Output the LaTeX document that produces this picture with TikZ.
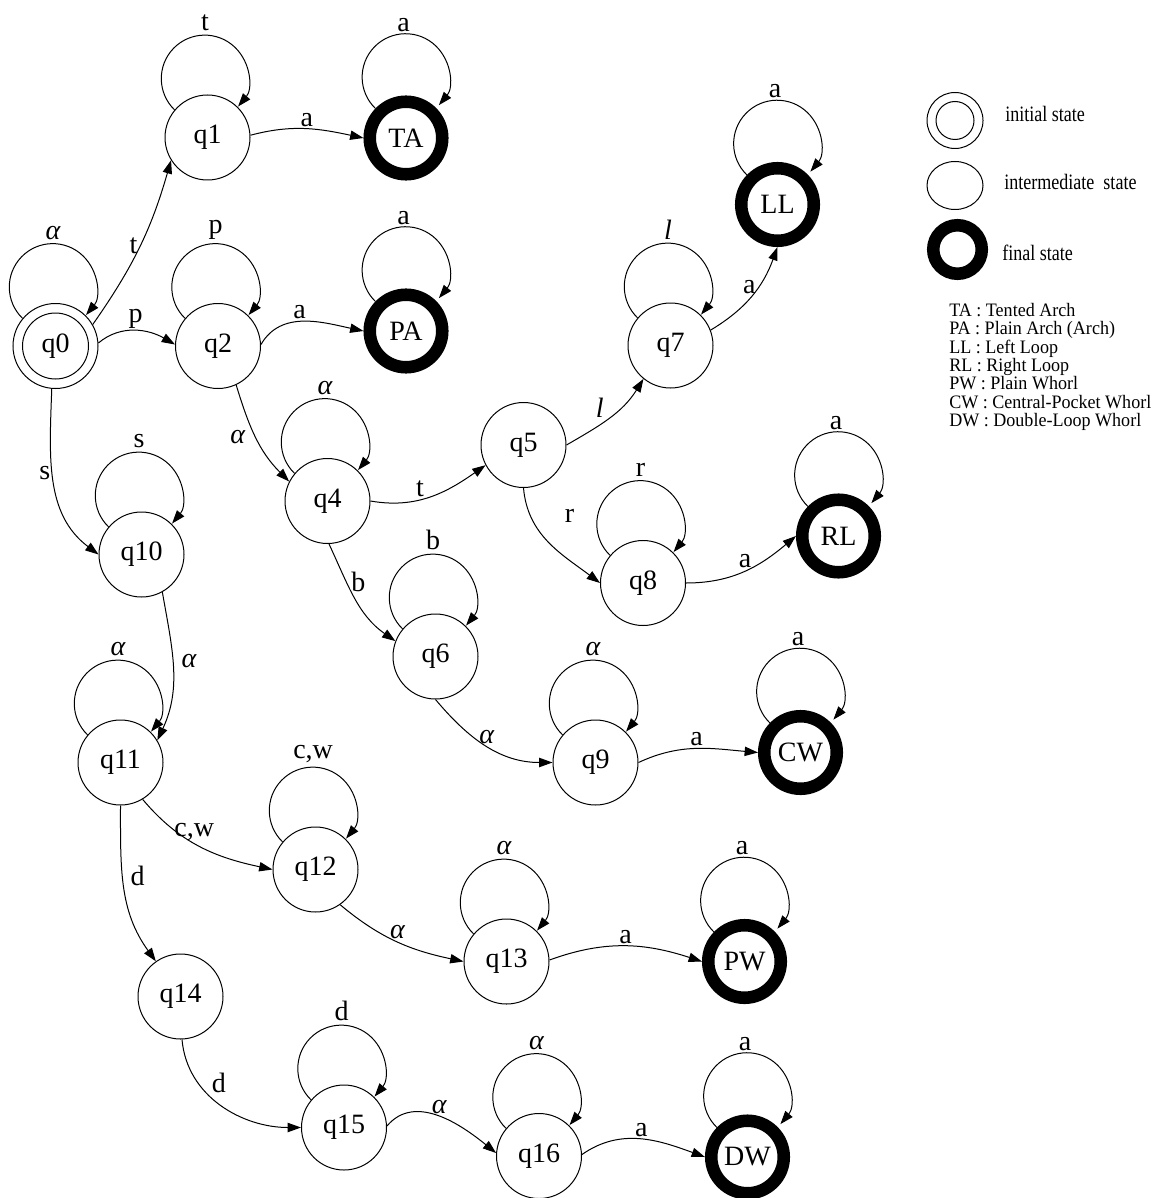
\documentclass[tikz,border=0pt]{standalone}
\usepackage{fontspec}
\setmainfont{Liberation Serif}
\newfontfamily\legfont[FakeStretch=0.82]{Liberation Serif}
\newfontfamily\keyfont[FakeStretch=0.95]{Liberation Serif}
\usetikzlibrary{arrows.meta,shapes.geometric}
\newcommand\nf{\fontsize{21pt}{24pt}\selectfont}
\newcommand\myloop[4]{\draw[arr] (#1.#2) arc[start angle=226,end angle=-40,radius=32.6pt]
  node[lbl,anchor=south] at ([shift={(-2.4,#3)}]#1.center) {#4};}
\begin{document}
\begin{tikzpicture}[x=0.75pt,y=0.75pt,
 st/.style={circle,draw,line width=0.75pt,minimum size=63.75pt,inner sep=0pt,outer sep=0.375pt,font=\nf},
 fin/.style={circle,draw,line width=9.4pt,minimum size=54.4pt,inner sep=0pt,outer sep=4.7pt,font=\nf},
 arr/.style={-{Triangle[length=10pt,width=7pt]},line width=0.75pt},
 lbl/.style={font=\nf,inner sep=1.5pt},
 legtxt/.style={font=\legfont\fontsize{16.5pt}{18pt}\selectfont,inner sep=0pt,anchor=west},
 keytxt/.style={font=\keyfont\fontsize{14.25pt}{16pt}\selectfont,inner sep=0pt,anchor=base west}]
\useasboundingbox (0,0) rectangle (1152,-1198);
% states
\node[st] (q0) at (55.5,-346) {q0};
\draw[line width=0.75pt] (q0.center) circle[radius=24.75pt];
\node[st] (q1) at (207.5,-137.5) {q1};
\node[fin] (TA) at (406,-138) {TA};
\node[st] (q2) at (218,-346) {q2};
\node[fin] (PA) at (406,-331) {PA};
\node[st] (q4) at (327.5,-501) {q4};
\node[st] (q5) at (523.5,-445) {q5};
\node[st] (q7) at (670.5,-345.5) {q7};
\node[fin] (LL) at (777.5,-204.5) {LL};
\node[st] (q8) at (643,-583) {q8};
\node[fin] (RL) at (838.5,-536) {RL};
\node[st] (q6) at (435.5,-656.5) {q6};
\node[st] (q9) at (595.5,-762.5) {q9};
\node[fin] (CW) at (800.5,-752.5) {CW};
\node[st] (q10) at (141.5,-554.5) {q10};
\node[st] (q11) at (120.5,-762.5) {q11};
\node[st] (q12) at (315.5,-869.5) {q12};
\node[st] (q13) at (506.5,-961.5) {q13};
\node[fin] (PW) at (744.5,-961.5) {PW};
\node[st] (q14) at (180.5,-996.5) {q14};
\node[st] (q15) at (344,-1127.5) {q15};
\node[st] (q16) at (539,-1156) {q16};
\node[fin] (DW) at (747.5,-1157) {DW};
% self loops
\myloop{q0}{140}{104}{\textit{α}}
\myloop{q1}{140}{104}{t}
\myloop{TA}{136}{104}{a}
\myloop{q2}{140}{104}{p}
\myloop{PA}{136}{104}{a}
\myloop{q4}{140}{104}{\textit{α}}
\myloop{q7}{140}{104}{\textit{l}}
\myloop{LL}{136}{104}{a}
\myloop{q8}{140}{104}{r}
\myloop{RL}{136}{104}{a}
\myloop{q6}{140}{104}{b}
\myloop{q9}{140}{104}{\textit{α}}
\myloop{CW}{136}{104}{a}
\myloop{q10}{140}{104}{s}
\myloop{q11}{140}{104}{\textit{α}}
\myloop{q12}{140}{104}{c,w}
\myloop{q13}{140}{104}{\textit{α}}
\myloop{PW}{136}{104}{a}
\myloop{q15}{140}{104}{d}
\myloop{q16}{140}{104}{\textit{α}}
\myloop{DW}{136}{104}{a}
% transitions
\draw[arr] (q0.30) to[out=55,in=254] node[lbl,left,pos=0.5]{t} (q1.212);
\draw[arr] (q0.4) to[out=40,in=150] node[lbl,above]{p} (q2.178);
\draw[arr] (q1.3) to[out=15,in=168] node[lbl,above]{a} (TA.180);
\draw[arr] (q2.2) to[out=60,in=168] node[lbl,above,pos=0.45]{a} (PA.180);
\draw[arr] (q2.-65) to[out=-73,in=135] node[lbl,left=6pt]{\textit{α}} (q4.153);
\draw[arr] (q0.265) to[out=-92,in=143] node[lbl,left,pos=0.45]{s} (q10.180);
\draw[arr] (q10.-61) to[out=-80,in=65] node[lbl,right=5pt,pos=0.45]{\textit{α}} (q11.31);
\draw[arr] (q11.-59) to[out=-50,in=168] node[lbl,above,pos=0.45]{c,w} (q12.180);
\draw[arr] (q11.270) to[out=-90,in=126] node[lbl,right=4pt,pos=0.42]{d} (q14.125);
\draw[arr] (q14.-88) to[out=-85,in=180] node[lbl,above right,pos=0.4]{d} (q15.180);
\draw[arr] (q15.2) to[out=50,in=141] node[lbl,above]{\textit{α}} (q16.176);
\draw[arr] (q16.2) to[out=35,in=160] node[lbl,above]{a} (DW.180);
\draw[arr] (q12.-55) to[out=-40,in=168] node[lbl,above]{\textit{α}} (q13.180);
\draw[arr] (q13.2) to[out=20,in=162] node[lbl,above]{a} (PW.180);
\draw[arr] (q4.0) to[out=-10,in=215] node[lbl,above,pos=0.4]{t} (q5.208);
\draw[arr] (q4.-88) to[out=-65,in=145] node[lbl,right=2pt,pos=0.33]{b} (q6.159);
\draw[arr] (q6.-90) to[out=-50,in=180] node[lbl,above]{\textit{α}} (q9.180);
\draw[arr] (q9.0) to[out=25,in=175] node[lbl,above]{a} (CW.180);
\draw[arr] (q5.0) to[out=30,in=238] node[lbl,above left,pos=0.45]{\textit{l}} (q7.231);
\draw[arr] (q5.-90) to[out=-85,in=143] node[lbl,right=24pt,pos=0.22]{r} (q8.180);
\draw[arr] (q7.21) to[out=31,in=250] node[lbl,left,pos=0.6]{a} (LL.270);
\draw[arr] (q8.0) to[out=0,in=220] node[lbl,above,pos=0.5]{a} (RL.180);
% legend
\node[circle,draw,line width=0.75pt,minimum size=42pt,inner sep=0pt] (Linit) at (955,-120.5) {};
\draw[line width=0.75pt] (Linit.center) circle[radius=14.25pt];
\node[ellipse,draw,line width=0.75pt,minimum width=42pt,minimum height=36pt,inner sep=0pt] (Lmid) at (955,-185.5) {};
\node[circle,draw,line width=9.4pt,minimum size=36.4pt,inner sep=0pt] (Lfin) at (957.5,-249.5) {};
\node[legtxt] (Tinit) at (1005,-114) {initial state};
\node[legtxt] (Tmid) at (1004,-182) {intermediate\ \ state};
\node[legtxt] (Tfin) at (1002,-253) {final state};
\node[keytxt] (K1) at (949,-316.5) {TA : Tented Arch};
\node[keytxt] (K2) at (949,-334.8) {PA : Plain Arch (Arch)};
\node[keytxt] (K3) at (949,-353.1) {LL : Left Loop};
\node[keytxt] (K4) at (949,-371.4) {RL : Right Loop};
\node[keytxt] (K5) at (949,-389.7) {PW : Plain Whorl};
\node[keytxt] (K6) at (949,-408) {CW : Central-Pocket Whorl};
\node[keytxt] (K7) at (949,-426.3) {DW : Double-Loop Whorl};
\end{tikzpicture}
\end{document}
